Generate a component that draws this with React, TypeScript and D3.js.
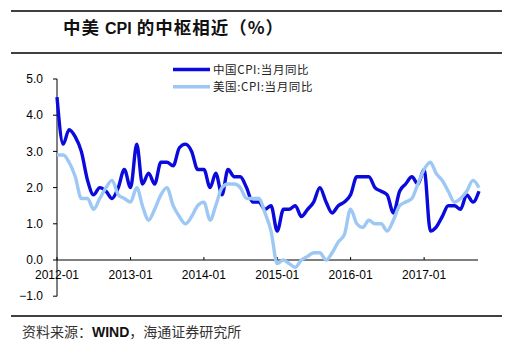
import React from "react";
import * as d3 from "d3";

const startMonth = "2012-01";
const chinaCPI = [
  4.5, 3.2, 3.6, 3.4, 3.0, 2.2, 1.8, 2.0, 1.9, 1.7, 2.0, 2.5,
  2.0, 3.2, 2.1, 2.4, 2.1, 2.7, 2.7, 2.6, 3.1, 3.2, 3.0, 2.5,
  2.5, 2.0, 2.4, 1.8, 2.5, 2.3, 2.3, 2.0, 1.6, 1.6, 1.4, 1.5,
  0.8, 1.4, 1.4, 1.5, 1.2, 1.4, 1.6, 2.0, 1.6, 1.3, 1.5, 1.6,
  1.8, 2.3, 2.3, 2.3, 2.0, 1.9, 1.8, 1.3, 1.9, 2.1, 2.3, 2.1,
  2.5, 0.8, 0.9, 1.2, 1.5, 1.5, 1.4, 1.8, 1.6, 1.9,
];
const usCPI = [
  2.9, 2.9, 2.7, 2.3, 1.7, 1.7, 1.4, 1.7, 2.0, 2.2, 1.8, 1.7,
  1.6, 2.0, 1.5, 1.1, 1.4, 1.8, 2.0, 1.5, 1.2, 1.0, 1.2, 1.5,
  1.6, 1.1, 1.5, 2.0, 2.1, 2.1, 2.0, 1.7, 1.7, 1.7, 1.3, 0.8,
  -0.1, 0.0, -0.1, -0.2, 0.0, 0.1, 0.2, 0.2, 0.0, 0.2, 0.5, 0.7,
  1.4, 1.0, 0.9, 1.1, 1.0, 1.0, 0.8, 1.1, 1.5, 1.6, 1.7, 2.1,
  2.5, 2.7, 2.4, 2.2, 1.9, 1.6, 1.7, 1.9, 2.2, 2.0,
];
const yTicks = [-1, 0, 1, 2, 3, 4, 5];
const xTickLabels = ["2012-01", "2013-01", "2014-01", "2015-01", "2016-01", "2017-01"];
const seriesNames = ["中国CPI:当月同比", "美国:CPI:当月同比"];
const titleParts = ["中美 ", "CPI", " 的中枢相近（%）"];
const sourceText = "资料来源：";
const sourceRest = "，海通证券研究所";

const LATIN = "'Liberation Sans', Arial, 'Noto Sans CJK SC', sans-serif";
const CJK = "'Noto Sans CJK SC', 'Liberation Sans', sans-serif";

export default function App() {
  const W = 519, H = 341;
  const parse = d3.timeParse("%Y-%m");
  const t0 = parse(startMonth)!;
  const dates = chinaCPI.map((_, i) => d3.timeMonth.offset(t0, i));
  const x = d3.scaleTime().domain([t0, dates[dates.length - 1]]).range([57, 479]);
  const y = d3.scaleLinear().domain([-1, 5]).range([296.2, 79]);
  const line = d3
    .line<number>()
    .x((_, i) => x(dates[i]))
    .y((d) => y(d))
    .curve(d3.curveMonotoneX);

  const colors = ["#0A0ADC", "#9DC8F3"];
  const axisX0 = x(t0);
  const axisX1 = 478;

  return (
    <svg width={W} height={H} style={{ position: "absolute", left: 0, top: 0 }}>
      <rect width={W} height={H} fill="#fff" />
      <line x1={11} x2={502} y1={11} y2={11} stroke="#000" strokeWidth={1.5} />
      <text x={63} y={33.5} fontFamily={CJK} fontWeight="bold" fontSize={17.5} fill="#111" letterSpacing={1.0}>
        {titleParts[0]}
        <tspan fontFamily={LATIN} fontSize={16} letterSpacing={0}>{titleParts[1]}</tspan>
        {titleParts[2]}
      </text>
      <line x1={11} x2={502} y1={53} y2={53} stroke="#000" strokeWidth={1.5} />

      {/* y axis */}
      <line x1={axisX0} x2={axisX0} y1={y(5)} y2={y(-1)} stroke="#000" strokeWidth={1} />
      {yTicks.map((t) => (
        <g key={t}>
          <line x1={axisX0 - 4} x2={axisX0} y1={y(t)} y2={y(t)} stroke="#000" />
          <text x={43} y={y(t)} dy="0.35em" textAnchor="end" fontFamily={LATIN} fontSize={12} fill="#000">
            {d3.format(".1f")(t)}
          </text>
        </g>
      ))}
      {/* x axis at zero */}
      <line x1={axisX0} x2={axisX1} y1={y(0)} y2={y(0)} stroke="#000" strokeWidth={1} />
      {xTickLabels.map((lbl) => {
        const d = parse(lbl)!;
        const px = x(d);
        return (
          <g key={lbl}>
            <line x1={px} x2={px} y1={y(0) - 3} y2={y(0)} stroke="#000" />
            <text x={px} y={275} dy="0.35em" textAnchor="middle" fontFamily={LATIN} fontSize={12} fill="#000">
              {lbl}
            </text>
          </g>
        );
      })}

      <path d={line(chinaCPI) || ""} fill="none" stroke={colors[0]} strokeWidth={3.4} strokeLinejoin="round" />
      <path d={line(usCPI) || ""} fill="none" stroke={colors[1]} strokeWidth={3.4} strokeLinejoin="round" />

      {/* legend */}
      {seriesNames.map((n, i) => (
        <g key={n}>
          <line x1={173} x2={210} y1={69.5 + i * 17.3} y2={69.5 + i * 17.3} stroke={colors[i]} strokeWidth={3.4} />
          <text x={213} y={69.5 + i * 17.3} dy="0.35em" fontFamily={CJK} fontSize={11.5} fill="#222" letterSpacing={0.6}>
            {n}
          </text>
        </g>
      ))}

      <line x1={11} x2={502} y1={316} y2={316} stroke="#000" strokeWidth={1.5} />
      <text x={22} y={332} dy="0.35em" fontFamily={CJK} fontSize={14} fill="#333">
        {sourceText}
        <tspan fontFamily={LATIN} fontWeight="bold" fill="#111">WIND</tspan>
        {sourceRest}
      </text>
    </svg>
  );
}
